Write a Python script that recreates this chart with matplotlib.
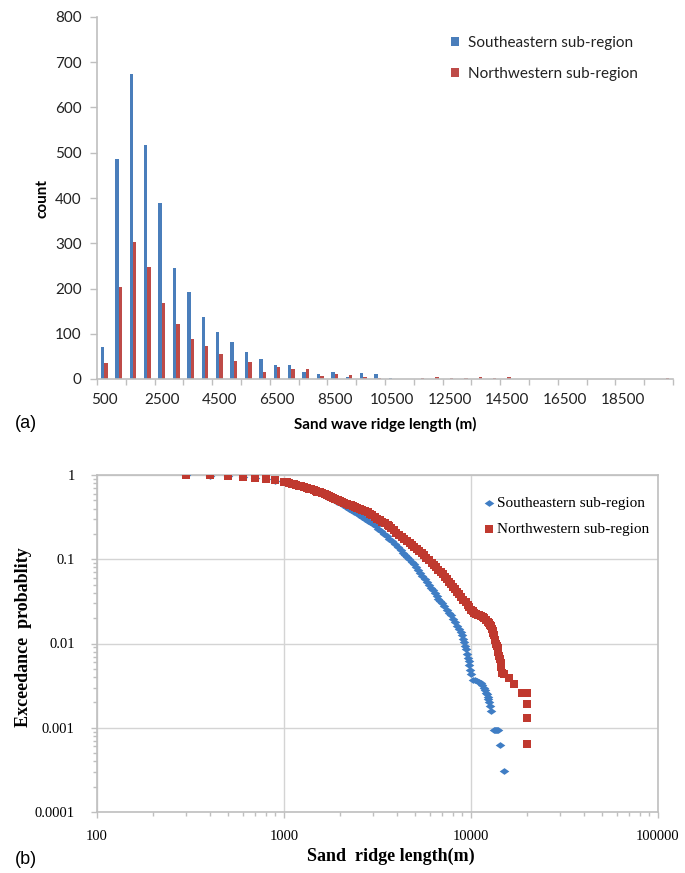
import matplotlib
matplotlib.use("Agg")
import matplotlib.pyplot as plt
import numpy as np
from matplotlib.path import Path

# ---------------- data: panel (a) histogram ----------------
bin_starts = list(range(500, 20001, 500))
se_counts = [70, 487, 674, 517, 389, 246, 192, 136, 103, 81, 60, 44, 32, 31, 16, 12, 16, 5, 13, 12,
             3, 1, 1, 0, 1, 1, 0, 0, 1, 0, 1, 0, 0, 0, 0, 0, 0, 0, 0, 0]
nw_counts = [35, 204, 303, 248, 169, 121, 88, 72, 55, 40, 37, 16, 27, 23, 21, 6, 12, 8, 4, 3,
             1, 1, 2, 4, 3, 3, 4, 2, 4, 0, 1, 0, 1, 0, 0, 1, 0, 0, 0, 3]
hist_labels = ["Southeastern sub-region", "Northwestern sub-region"]

# ---------------- data: panel (b) exceedance probability ----------------
se_len = [300, 400, 500, 600, 700, 800, 900,
          1000, 1050, 1100, 1150, 1200, 1250, 1300, 1350, 1400, 1450, 1500, 1550, 1600, 1650, 1700,
          1775, 1850, 1925, 2000, 2075, 2150, 2215, 2280, 2365, 2450, 2525, 2600, 2700, 2800, 2900,
          3000, 3100, 3200, 3315, 3430, 3540, 3650, 3775, 3900, 4050, 4200, 4325, 4450, 4565, 4680,
          4815, 4950, 5065, 5180, 5340, 5500, 5650, 5800, 5950, 6100, 6250, 6400, 6550, 6700, 6850,
          7000, 7200, 7400, 7600, 7800, 8000, 8200, 8430, 8660, 8800, 8950, 9080, 9200, 9300, 9400,
          9500, 9600, 9700, 9800, 9900, 10000, 10200, 10500, 10800, 11000, 11300, 11500, 11700,
          11850, 12000, 12150, 12300, 12400, 12500, 12600, 12800, 13300, 13450, 13600, 13750, 13900,
          14350, 15000]
se_prob = [0.99, 0.98, 0.965, 0.945, 0.92, 0.885, 0.855,
           0.82, 0.80, 0.78, 0.76, 0.74, 0.72, 0.70, 0.682, 0.665, 0.645, 0.625, 0.607, 0.59, 0.572,
           0.555, 0.53, 0.505, 0.482, 0.46, 0.437, 0.415, 0.40, 0.385, 0.367, 0.35, 0.335, 0.32, 0.304,
           0.288, 0.274, 0.26, 0.245, 0.23, 0.215, 0.20, 0.187, 0.175, 0.163, 0.152, 0.14, 0.128, 0.12,
           0.112, 0.106, 0.10, 0.093, 0.087, 0.081, 0.075, 0.069, 0.063, 0.058, 0.053, 0.049, 0.046,
           0.043, 0.040, 0.037, 0.034, 0.032, 0.030, 0.0275, 0.025, 0.023, 0.0215, 0.0197, 0.018,
           0.0163, 0.0148, 0.0136, 0.0125, 0.0113, 0.0103, 0.0094, 0.0085, 0.0076, 0.0068, 0.0062,
           0.0056, 0.0048, 0.0044, 0.0037, 0.0037, 0.0036, 0.0035, 0.0034, 0.0032, 0.0030, 0.0028,
           0.0026, 0.0025, 0.0023, 0.0022, 0.0020, 0.0018, 0.0016, 0.00094, 0.00094, 0.00094,
           0.00094, 0.00094, 0.00062, 0.00031]

nw_len = [300, 400, 500, 600, 700, 800, 900,
          1000, 1035, 1070, 1100, 1130, 1165, 1200, 1240, 1280, 1320, 1360, 1400, 1440, 1475, 1510,
          1555, 1600, 1650, 1700, 1740, 1780, 1830, 1880, 1935, 1990, 2045, 2100, 2160, 2220, 2285,
          2350, 2410, 2470, 2545, 2620, 2710, 2800, 2875, 2950, 3050, 3160, 3250, 3350, 3460, 3580,
          3660, 3750, 3880, 3990, 4100, 4250, 4400, 4550, 4700, 4830, 4970, 5130, 5300, 5460, 5620,
          5780, 5950, 6150, 6360, 6530, 6700, 6870, 7050, 7220, 7400, 7600, 7800, 8000, 8200, 8430,
          8660, 8880, 9100, 9350, 9600, 9800, 10000, 10200, 10400, 10600, 10850, 11050, 11300, 11550,
          11800, 12100, 12300, 12500, 12650, 12800, 12930, 13050, 13180, 13300, 13450, 13600, 13750,
          13900, 14000, 14150, 14250, 14400, 14550, 14700, 15100, 16000, 17000, 18700, 19300, 20000,
          20000, 20000, 20000]
nw_prob = [0.99, 0.99, 0.975, 0.955, 0.93, 0.89, 0.865,
           0.83, 0.815, 0.80, 0.79, 0.775, 0.762, 0.75, 0.735, 0.72, 0.705, 0.69, 0.675, 0.66, 0.648,
           0.635, 0.62, 0.605, 0.59, 0.575, 0.562, 0.55, 0.535, 0.52, 0.507, 0.495, 0.482, 0.47, 0.457,
           0.445, 0.435, 0.425, 0.415, 0.405, 0.395, 0.385, 0.372, 0.36, 0.348, 0.335, 0.318, 0.30,
           0.29, 0.28, 0.268, 0.258, 0.245, 0.235, 0.22, 0.207, 0.195, 0.185, 0.175, 0.165, 0.155,
           0.147, 0.14, 0.132, 0.125, 0.118, 0.111, 0.104, 0.098, 0.091, 0.085, 0.080, 0.075, 0.071,
           0.067, 0.062, 0.058, 0.054, 0.051, 0.047, 0.044, 0.041, 0.039, 0.036, 0.033, 0.031, 0.029,
           0.027, 0.025, 0.024, 0.023, 0.0225, 0.022, 0.0215, 0.021, 0.0205, 0.020, 0.019, 0.018,
           0.0175, 0.0168, 0.016, 0.015, 0.014, 0.0132, 0.0125, 0.011, 0.010, 0.0094, 0.0088, 0.0080,
           0.0072, 0.0065, 0.0058, 0.0052, 0.0045, 0.0043, 0.0039, 0.0033, 0.0026, 0.0026, 0.0026,
           0.0019, 0.0013, 0.00065]

BLUE = "#4a7ebb"
RED = "#be4b48"
SBLUE = "#3f7dc4"
SRED = "#c0392f"
GRAY = "#bfbfbf"

fig = plt.figure(figsize=(6.85, 8.73), dpi=100)
W, H = 685, 873

# ---------------- panel (a) ----------------
ax1 = fig.add_axes([97 / W, 1 - 379 / H, (673 - 97) / W, (379 - 17) / H])
idx = np.arange(len(bin_starts))
bw = 0.23
ax1.bar(idx - bw / 2, se_counts, width=bw, color=BLUE, label=hist_labels[0], linewidth=0)
ax1.bar(idx + bw / 2, nw_counts, width=bw, color=RED, label=hist_labels[1], linewidth=0)
ax1.set_xlim(-0.5, len(bin_starts) - 0.5)
ax1.set_ylim(0, 800)
ax1.set_yticks(range(0, 801, 100))
ax1.set_xticks(idx[::4])
ax1.set_xticklabels([str(b) for b in bin_starts[::4]])
ax1.set_xticks(np.arange(-0.5, len(bin_starts), 2), minor=True)
ax1.tick_params(axis="x", which="major", length=0, pad=10, labelsize=11, labelcolor="#222222")
ax1.tick_params(axis="x", which="minor", length=4, color=GRAY, width=1)
ax1.tick_params(axis="y", length=5, color=GRAY, width=1, pad=6, labelsize=11, labelcolor="#222222")
for lab in ax1.get_xticklabels() + ax1.get_yticklabels():
    lab.set_family("Lato")
for s in ["top", "right"]:
    ax1.spines[s].set_visible(False)
for s in ["left", "bottom"]:
    ax1.spines[s].set_color(GRAY)
    ax1.spines[s].set_linewidth(1.2)
ax1.set_ylabel("count", fontfamily="Lato", fontweight="bold", fontsize=11)
ax1.yaxis.set_label_coords(-0.083, 0.5)
fig.text(385 / W, 1 - 424 / H, "Sand wave ridge length (m)", ha="center", va="center",
         fontfamily="Lato", fontweight="bold", fontsize=11)
leg1 = ax1.legend(loc="upper left", bbox_to_anchor=(451 / W, 1 - 36 / H), bbox_transform=fig.transFigure,
                  frameon=False, prop={"family": "Lato", "size": 11}, handlelength=0.5, handleheight=0.5,
                  handletextpad=0.6, labelspacing=1.1, borderpad=0, borderaxespad=0)
for t in leg1.get_texts():
    t.set_color("#222222")
fig.text(15 / W, 1 - 423 / H, "(a)", ha="left", va="center", fontfamily="Liberation Sans", fontsize=13)

# ---------------- panel (b) ----------------
ax2 = fig.add_axes([97 / W, 1 - 812 / H, (658 - 97) / W, (812 - 475) / H])
ax2.set_xscale("log")
ax2.set_yscale("log")
ax2.set_xlim(100, 100000)
ax2.set_ylim(0.0001, 1)
ax2.grid(True, which="major", color="#d4d4d4", linewidth=1)
ax2.set_axisbelow(True)
wide_diamond = Path([(-1, 0), (0, 0.7), (1, 0), (0, -0.7), (-1, 0)],
                    [Path.MOVETO, Path.LINETO, Path.LINETO, Path.LINETO, Path.CLOSEPOLY])
ax2.scatter(se_len, se_prob, marker=wide_diamond, s=48, color=SBLUE, linewidths=0,
            label="Southeastern sub-region", zorder=3)
ax2.scatter(nw_len, nw_prob, marker="s", s=40, color=SRED, linewidths=0,
            label="Northwestern sub-region", zorder=4)
ax2.set_xticks([100, 1000, 10000, 100000])
ax2.set_xticklabels(["100", "1000", "10000", "100000"])
ax2.set_yticks([0.0001, 0.001, 0.01, 0.1, 1])
ax2.set_yticklabels(["0.0001", "0.001", "0.01", "0.1", "1"])
ax2.tick_params(which="both", direction="out", color=GRAY, width=1)
ax2.tick_params(which="major", length=4)
ax2.tick_params(which="minor", length=3)
ax2.tick_params(axis="x", which="major", pad=9)
ax2.tick_params(axis="y", which="major", pad=12)
for lab in ax2.get_xticklabels() + ax2.get_yticklabels():
    lab.set_family("Liberation Serif")
    lab.set_fontsize(10.5)
ax2.yaxis.set_minor_formatter(plt.NullFormatter())
ax2.xaxis.set_minor_formatter(plt.NullFormatter())
for s in ax2.spines.values():
    s.set_color(GRAY)
    s.set_linewidth(1.2)
ax2.set_ylabel("Exceedance  probablity", fontfamily="Liberation Serif", fontweight="bold", fontsize=13)
ax2.yaxis.set_label_coords(-0.115, 0.52)
fig.text(391 / W, 1 - 856 / H, "Sand  ridge length(m)", ha="center", va="center",
         fontfamily="Liberation Serif", fontweight="bold", fontsize=13)
leg2 = ax2.legend(loc="upper left", bbox_to_anchor=(484 / W, 1 - 496 / H), bbox_transform=fig.transFigure,
                  frameon=False, prop={"family": "Liberation Serif", "size": 11}, handlelength=0.6,
                  handletextpad=0.25, labelspacing=0.8, borderpad=0, borderaxespad=0, scatterpoints=1)
fig.text(15 / W, 1 - 859 / H, "(b)", ha="left", va="center", fontfamily="Liberation Sans", fontsize=13)

fig.savefig("out.png", dpi=100)
